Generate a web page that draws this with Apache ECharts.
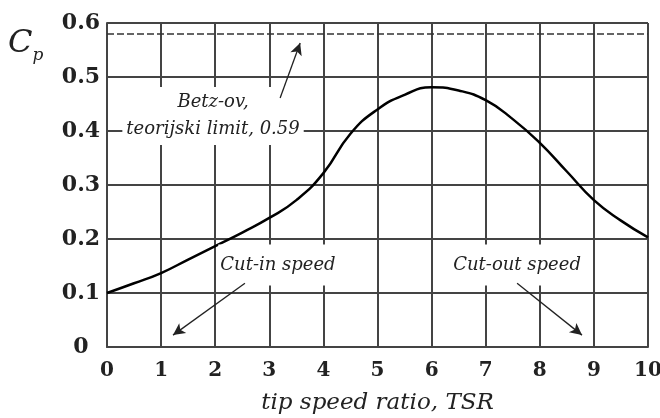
<!DOCTYPE html>
<html>
<head>
<meta charset="utf-8">
<script src="https://cdn.jsdelivr.net/npm/echarts@6/dist/echarts.min.js"></script>
<style>
  html, body { margin: 0; padding: 0; background: #fff; }
  #chart { width: 660px; height: 418px; }
</style>
</head>
<body>
<div id="chart"></div>
<script>
// TSR vs Cp
const tsr = [0, 0.5, 1, 1.5, 2, 2.5, 3, 3.5, 4, 4.5, 5, 5.5, 6, 6.5, 7, 7.5, 8, 8.5, 9, 9.5, 10]
const cp = [0.100, 0.118, 0.137, 0.162, 0.187, 0.212, 0.239, 0.272, 0.322, 0.395, 0.440,
  0.467, 0.481, 0.475, 0.457, 0.422, 0.378, 0.325, 0.272, 0.234, 0.203]

const xTickLabels = ['0', '1', '2', '3', '4', '5', '6', '7', '8', '9', '10']
const yTickLabels = ['0', '0.1', '0.2', '0.3', '0.4', '0.5', '0.6']

const betzLimit = 0.58

// annotation texts and their anchor points [tsr, cp]
const noteTexts = ['Betz-ov,\nteorijski limit, 0.59', 'Cut-in speed', 'Cut-out speed']
const notePoints = [[1.96, 0.428], [3.16, 0.152], [7.58, 0.152]]
// arrows: [from, to]
const arrows = [
  [[3.2, 0.461], [3.57, 0.563]],
  [[2.55, 0.118], [1.22, 0.022]],
  [[7.58, 0.118], [8.78, 0.022]]
]

const serif = 'DejaVu Serif'
const gridColor = '#444'

const chart = echarts.init(document.getElementById('chart'))

const option = {
  animation: false,
  backgroundColor: '#fff',
  grid: { left: 107, right: 12, top: 23, bottom: 71, containLabel: false, outerBoundsMode: 'none' },
  xAxis: {
    type: 'value',
    min: 0,
    max: 10,
    interval: 1,
    name: 'tip speed ratio, TSR',
    nameLocation: 'middle',
    nameGap: 45,
    nameTextStyle: { fontFamily: serif, fontStyle: 'italic', fontSize: 23, color: '#222' },
    axisLine: { show: true, lineStyle: { color: gridColor, width: 2 } },
    axisTick: { show: false },
    splitLine: { show: true, lineStyle: { color: gridColor, width: 2 } },
    axisLabel: {
      margin: 14,
      fontFamily: serif,
      fontWeight: 'bold',
      fontSize: 20,
      color: '#222',
      formatter: (v) => xTickLabels[Math.round(v)]
    }
  },
  yAxis: {
    type: 'value',
    min: 0,
    max: 0.6,
    interval: 0.1,
    axisLine: { show: true, lineStyle: { color: gridColor, width: 2 } },
    axisTick: { show: false },
    splitLine: { show: true, lineStyle: { color: gridColor, width: 2 } },
    axisLabel: {
      margin: 26,
      align: 'center',
      fontFamily: serif,
      fontWeight: 'bold',
      fontSize: 22,
      color: '#222',
      formatter: (v) => yTickLabels[Math.round(v * 10)]
    }
  },
  graphic: [
    {
      type: 'text',
      left: 8,
      top: 28,
      style: {
        text: '{c|C}{p|p}',
        rich: {
          c: { fontFamily: serif, fontStyle: 'italic', fontSize: 32, fill: '#222' },
          p: { fontFamily: serif, fontStyle: 'italic', fontSize: 17, fill: '#222', padding: [24, 0, 0, 0] }
        }
      }
    }
  ],
  series: [
    {
      type: 'line',
      smooth: true,
      symbol: 'none',
      data: tsr.map((x, i) => [x, cp[i]]),
      lineStyle: { color: '#000', width: 2.5 },
      markPoint: {
        z: 4,
        symbol: 'circle',
        symbolSize: 0,
        silent: true,
        label: {
          show: true,
          position: 'inside',
          fontFamily: serif,
          fontStyle: 'italic',
          fontSize: 18,
          color: '#222',
          lineHeight: 27,
          backgroundColor: '#fff'
        },
        data: noteTexts.map((t, i) => ({
          coord: notePoints[i],
          label: { formatter: t, padding: i === 0 ? [2, 4] : [7, 2] }
        }))
      },
      markLine: {
        z: 6,
        silent: true,
        symbol: ['none', 'none'],
        label: { show: false },
        data: [
          {
            yAxis: betzLimit,
            lineStyle: { type: [7, 3], color: '#333', width: 1.5 }
          }
        ].concat(arrows.map((a) => [
          { coord: a[0], symbol: 'none', lineStyle: { type: 'solid', color: '#222', width: 1.3 } },
          { coord: a[1], symbol: 'arrow', symbolSize: [9, 12] }
        ]))
      }
    }
  ]
}

chart.setOption(option)
</script>
</body>
</html>
